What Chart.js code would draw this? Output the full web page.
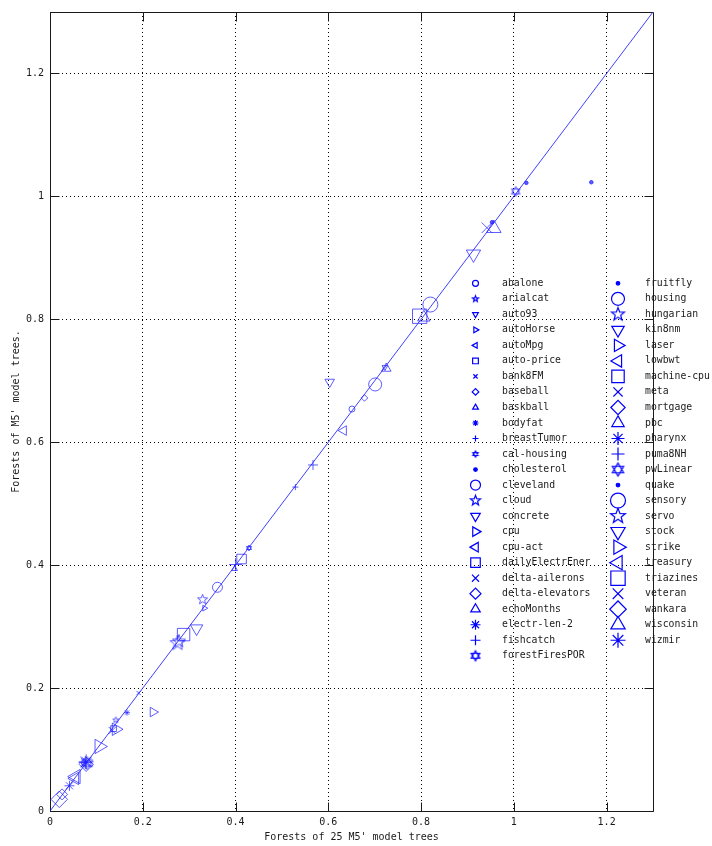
<!DOCTYPE html>
<html>
<head>
<meta charset="utf-8">
<script src="https://cdn.jsdelivr.net/npm/chart.js@4.4.1/dist/chart.umd.min.js"></script>
<style>
  html, body { margin: 0; padding: 0; background: #ffffff; }
  #wrap { width: 712px; height: 846px; }
</style>
</head>
<body>
<div id="wrap"><canvas id="chart" width="712" height="846"></canvas></div>
<script>
// Data sets compared: error of a forest of 25 M5' model trees (x) vs forests of M5' model trees (y)
const datasetNames = [
  'abalone', 'arialcat', 'auto93', 'autoHorse', 'autoMpg', 'auto-price', 'bank8FM',
  'baseball', 'baskball', 'bodyfat', 'breastTumor', 'cal-housing', 'cholesterol',
  'cleveland', 'cloud', 'concrete', 'cpu', 'cpu-act', 'dailyElectrEner', 'delta-ailerons',
  'delta-elevators', 'echoMonths', 'electr-len-2', 'fishcatch', 'forestFiresPOR',
  'fruitfly', 'housing', 'hungarian', 'kin8nm', 'laser', 'lowbwt', 'machine-cpu', 'meta',
  'mortgage', 'pbc', 'pharynx', 'puma8NH', 'pwLinear', 'quake', 'sensory', 'servo',
  'stock', 'strike', 'treasury', 'triazines', 'veteran', 'wankara', 'wisconsin', 'wizmir'
];

const forests25Values = [
  0.651, 0.142, 0.722, 0.333, 0.074, 0.137, 0.191,
  0.678, 0.398, 0.166, 0.529, 0.429, 1.027,
  0.361, 0.329, 0.603, 0.222, 0.633, 0.413, 0.134,
  0.026, 0.725, 0.042, 0.567, 1.004,
  1.167, 0.701, 0.278, 0.316, 0.142, 0.054, 0.288, 0.080,
  0.078, 0.806, 0.076, 0.400, 0.080, 0.953, 0.820, 0.275,
  0.913, 0.106, 0.056, 0.797, 0.942, 0.020, 0.957, 0.078
];

const forestsValues = [
  0.654, 0.148, 0.722, 0.330, 0.077, 0.134, 0.192,
  0.672, 0.394, 0.160, 0.527, 0.428, 1.022,
  0.364, 0.344, 0.698, 0.161, 0.619, 0.410, 0.131,
  0.027, 0.720, 0.041, 0.563, 1.008,
  1.023, 0.694, 0.276, 0.297, 0.133, 0.053, 0.287, 0.079,
  0.076, 0.803, 0.079, 0.401, 0.078, 0.958, 0.824, 0.273,
  0.906, 0.105, 0.056, 0.805, 0.949, 0.019, 0.948, 0.080
];

const tickValues = [0, 0.2, 0.4, 0.6, 0.8, 1, 1.2];
const axisMax = 1.3;

// Marker cycle, repeated with growing sizes
const markerCycle = ['circle', 'pentagram', 'triDown', 'triRight', 'triLeft', 'square',
  'x', 'diamond', 'triUp', 'asterisk', 'plus', 'hexagram', 'dot'];
const cycleRadius = [3, 5, 6.5, 7.5];

const PLOT_BLUE = 'rgba(30,30,255,0.72)';
const LEGEND_BLUE = '#0000ff';
const FONT_FAMILY = '"DejaVu Sans Mono", "Liberation Mono", monospace';

function starCanvas(kind, r, color, lw) {
  const s = Math.ceil(2 * r + 4);
  const c = document.createElement('canvas');
  c.width = s; c.height = s;
  const g = c.getContext('2d');
  g.strokeStyle = color;
  g.lineWidth = lw;
  const cx = s / 2, cy = s / 2;
  g.beginPath();
  if (kind === 'pentagram') {
    for (let i = 0; i < 10; i++) {
      const a = -Math.PI / 2 + i * Math.PI / 5;
      const rr = i % 2 ? r * 0.42 : r;
      const px = cx + rr * Math.cos(a), py = cy + rr * Math.sin(a);
      if (i === 0) g.moveTo(px, py); else g.lineTo(px, py);
    }
    g.closePath();
  } else {
    for (let t = 0; t < 2; t++) {
      for (let i = 0; i < 3; i++) {
        const a = (t ? Math.PI / 2 : -Math.PI / 2) + i * 2 * Math.PI / 3;
        const px = cx + r * Math.cos(a), py = cy + r * Math.sin(a);
        if (i === 0) g.moveTo(px, py); else g.lineTo(px, py);
      }
      g.closePath();
    }
  }
  g.stroke();
  return c;
}

function markerStyle(index, color, lw) {
  const kind = markerCycle[index % markerCycle.length];
  const r = cycleRadius[Math.floor(index / markerCycle.length)];
  const st = { pointStyle: 'circle', radius: r, rotation: 0, fill: false };
  switch (kind) {
    case 'circle': st.pointStyle = 'circle'; break;
    case 'pentagram': st.pointStyle = starCanvas('pentagram', r * 1.05, color, lw); break;
    case 'hexagram': st.pointStyle = starCanvas('hexagram', r, color, lw); break;
    case 'triDown': st.pointStyle = 'triangle'; st.rotation = 180; st.radius = r * 1.1; break;
    case 'triRight': st.pointStyle = 'triangle'; st.rotation = 90; st.radius = r * 1.1; break;
    case 'triLeft': st.pointStyle = 'triangle'; st.rotation = 270; st.radius = r * 1.1; break;
    case 'triUp': st.pointStyle = 'triangle'; st.radius = r * 1.1; break;
    case 'square': st.pointStyle = 'rect'; st.radius = r * 1.35; break;
    case 'x': st.pointStyle = 'crossRot'; break;
    case 'diamond': st.pointStyle = 'rectRot'; st.radius = r * 1.1; break;
    case 'asterisk': st.pointStyle = 'star'; break;
    case 'plus': st.pointStyle = 'cross'; break;
    case 'dot': st.pointStyle = 'circle'; st.radius = 1.8; st.fill = true; break;
  }
  return st;
}

const scatterSets = datasetNames.map((name, i) => {
  const st = markerStyle(i, PLOT_BLUE, 1);
  return {
    type: 'scatter',
    label: name,
    data: [{ x: forests25Values[i], y: forestsValues[i] }],
    pointStyle: st.pointStyle,
    pointRadius: st.radius,
    pointRotation: st.rotation,
    pointBorderColor: PLOT_BLUE,
    pointBackgroundColor: st.fill ? PLOT_BLUE : 'rgba(0,0,0,0)',
    pointBorderWidth: 1,
    order: 1
  };
});

// Reference line y = x
const diagonal = {
  type: 'line',
  label: 'y = x',
  data: [{ x: 0, y: 0 }, { x: axisMax, y: axisMax }],
  borderColor: 'rgba(30,30,255,0.85)',
  borderWidth: 1,
  pointRadius: 0,
  fill: false,
  order: 2
};

// Axis box with inward ticks on all four sides
const boxPlugin = {
  id: 'axisBox',
  beforeDatasetsDraw(chart) {
    const { ctx, chartArea: a, scales } = chart;
    ctx.save();
    ctx.strokeStyle = '#1a1a1a';
    ctx.lineWidth = 1;
    ctx.setLineDash([]);
    ctx.beginPath();
    const L = Math.round(a.left) + 0.5, R = Math.round(a.right) + 0.5;
    const T = Math.round(a.top) + 0.5, B = Math.round(a.bottom) + 0.5;
    ctx.rect(L, T, R - L, B - T);
    const tl = 9;
    tickValues.forEach(v => {
      const px = Math.round(scales.x.getPixelForValue(v)) + 0.5;
      ctx.moveTo(px, B); ctx.lineTo(px, B - tl);
      ctx.moveTo(px, T); ctx.lineTo(px, T + tl);
      const py = Math.round(scales.y.getPixelForValue(v)) + 0.5;
      ctx.moveTo(L, py); ctx.lineTo(L + tl, py);
      ctx.moveTo(R, py); ctx.lineTo(R - tl, py);
    });
    ctx.stroke();
    ctx.restore();
  }
};

// Two-column legend placed inside the plot area
const legendPlugin = {
  id: 'insetLegend',
  afterDraw(chart) {
    const { ctx } = chart;
    const rowsPerCol = 25;
    const rowGap = 15.52;
    const col = [{ marker: 475.5, text: 502 }, { marker: 618, text: 645 }];
    const top = 283.3;
    const drawPoint = Chart.helpers && Chart.helpers.drawPoint;
    ctx.save();
    ctx.font = '9.8px ' + FONT_FAMILY;
    ctx.textBaseline = 'middle';
    ctx.textAlign = 'left';
    datasetNames.forEach((name, i) => {
      const c = col[Math.floor(i / rowsPerCol)];
      const y = top + (i % rowsPerCol) * rowGap;
      const st = markerStyle(i, LEGEND_BLUE, 1.2);
      ctx.strokeStyle = LEGEND_BLUE;
      ctx.fillStyle = st.fill ? LEGEND_BLUE : 'rgba(0,0,0,0)';
      ctx.lineWidth = 1.2;
      if (drawPoint) {
        drawPoint(ctx, { pointStyle: st.pointStyle, radius: st.radius, rotation: st.rotation, borderWidth: 1.2 }, c.marker, y);
      }
      ctx.fillStyle = '#1a1a1a';
      ctx.fillText(name, c.text, y);
    });
    ctx.restore();
  }
};

const tickFont = { family: FONT_FAMILY, size: 10 };

new Chart(document.getElementById('chart'), {
  data: { datasets: [diagonal, ...scatterSets] },
  options: {
    responsive: false,
    animation: false,
    devicePixelRatio: 1,
    layout: { padding: { left: 0, top: 12, right: 59, bottom: 0 } },
    plugins: { legend: { display: false }, tooltip: { enabled: false } },
    scales: {
      x: {
        type: 'linear',
        min: 0,
        max: axisMax,
        afterFit(scale) { scale.height = 35; },
        afterBuildTicks(scale) { scale.ticks = tickValues.map(v => ({ value: v })); },
        ticks: {
          color: '#1a1a1a',
          font: tickFont,
          padding: 5,
          maxRotation: 0,
          callback: v => String(Math.round(v * 10) / 10)
        },
        grid: { color: '#000000', lineWidth: 1, drawTicks: false },
        border: { display: false, dash: [1, 3] },
        title: {
          display: true,
          text: "Forests of 25 M5' model trees",
          color: '#1a1a1a',
          font: tickFont,
          padding: { top: 0, bottom: 3 }
        }
      },
      y: {
        type: 'linear',
        min: 0,
        max: axisMax,
        afterFit(scale) { scale.width = 50; },
        afterBuildTicks(scale) { scale.ticks = tickValues.map(v => ({ value: v })); },
        ticks: {
          color: '#1a1a1a',
          font: tickFont,
          padding: 6,
          callback: v => String(Math.round(v * 10) / 10)
        },
        grid: { color: '#000000', lineWidth: 1, drawTicks: false },
        border: { display: false, dash: [1, 3] },
        title: {
          display: true,
          text: "Forests of M5' model trees.",
          color: '#1a1a1a',
          font: tickFont,
          padding: { top: 10, bottom: 0 }
        }
      }
    }
  },
  plugins: [boxPlugin, legendPlugin]
});
</script>
</body>
</html>
